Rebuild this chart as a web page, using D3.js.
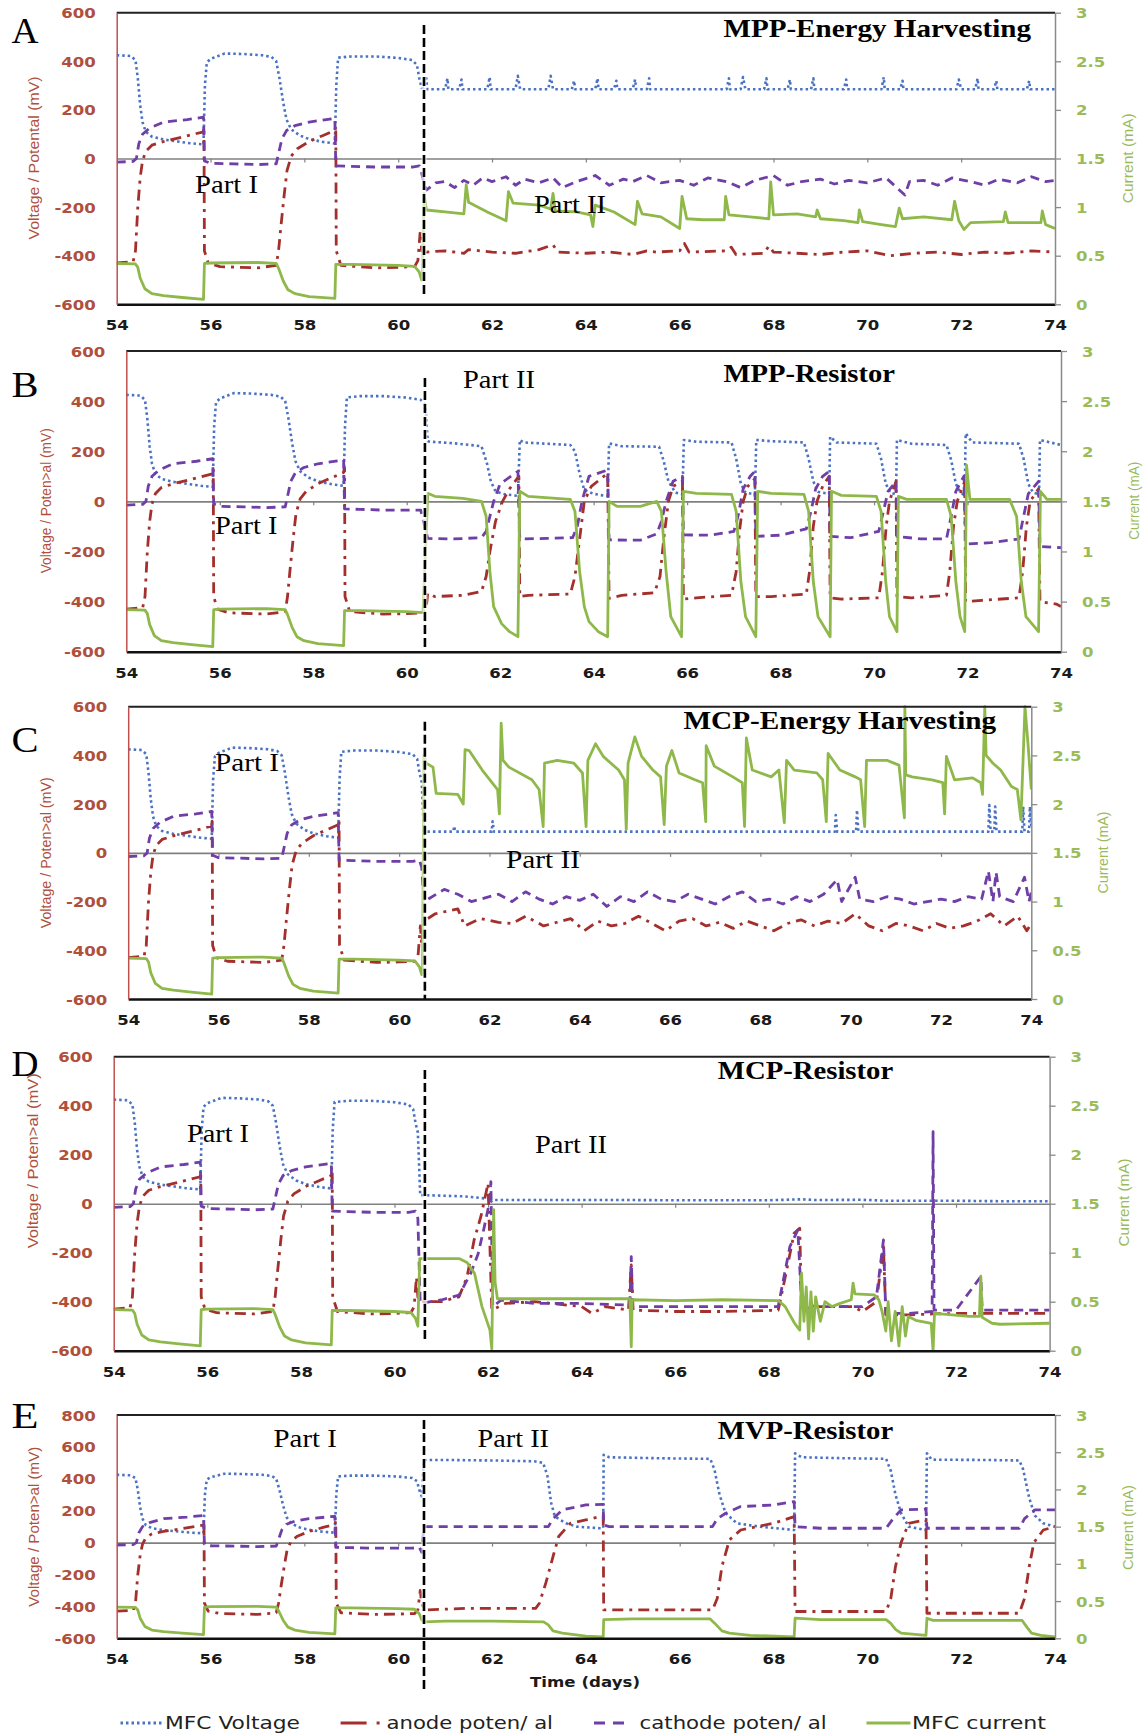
<!DOCTYPE html>
<html><head><meta charset="utf-8">
<script src="https://cdn.jsdelivr.net/npm/d3@7"></script>
<style>body{margin:0;background:#fff}svg{display:block}</style>
</head><body>
<svg id="chart" width="1148" height="1735"></svg>
<script>
// ---------- tick labels / categories ----------
const xTicks = [54,56,58,60,62,64,66,68,70,72,74];
const yTicksMain = [-600,-400,-200,0,200,400,600];
const yTicksE = [-600,-400,-200,0,200,400,600,800];
const currentTicks = [0,0.5,1,1.5,2,2.5,3];
const panelLetters = ["A","B","C","D","E"];
const panelTitles = ["MPP-Energy Harvesting","MPP-Resistor","MCP-Energy Harvesting","MCP-Resistor","MVP-Resistor"];
const yTitles = ["Voltage / Potental (mV)","Voltage / Poten>al (mV)","Voltage / Poten>al (mV)","Voltage / Poten>al (mV)","Voltage / Poten>al (mV)"];
const seriesNames = ["MFC Voltage","anode poten/ al","cathode poten/ al","MFC current"];

// ---------- Part I (days 54 - 60.5), common to all reactors ----------
const partI_voltage = [[54.0,425],[54.3,422],[54.4,405],[54.45,330],[54.5,220],[54.55,150],[54.62,110],[54.75,90],[55.0,78],[55.3,70],[55.6,62],[55.85,58],[55.88,300],[55.92,395],[56.0,410],[56.3,432],[56.7,430],[57.1,425],[57.3,418],[57.4,400],[57.47,330],[57.55,230],[57.62,160],[57.72,120],[57.9,95],[58.1,80],[58.4,68],[58.65,62],[58.68,300],[58.72,415],[59.0,420],[59.5,420],[60.0,414],[60.3,405],[60.4,385],[60.45,330],[60.5,290]];
const partI_anode = [[54.0,-430],[54.35,-425],[54.4,-380],[54.45,-200],[54.5,-80],[54.55,-10],[54.62,30],[54.75,55],[55.0,70],[55.4,88],[55.85,110],[55.86,130],[55.87,-380],[55.95,-430],[56.2,-445],[57.0,-450],[57.4,-440],[57.45,-380],[57.5,-280],[57.57,-150],[57.63,-50],[57.72,10],[57.85,40],[58.1,70],[58.4,95],[58.65,115],[58.67,135],[58.68,-380],[58.78,-440],[59.5,-450],[60.0,-448],[60.35,-445],[60.42,-420],[60.47,-300],[60.5,-380]];
const partI_cathode = [[54.0,-15],[54.35,-12],[54.42,0],[54.47,60],[54.55,100],[54.7,125],[55.0,150],[55.5,160],[55.85,170],[55.87,-10],[56.0,-20],[56.5,-22],[57.0,-25],[57.4,-22],[57.45,20],[57.52,80],[57.62,115],[57.8,135],[58.1,150],[58.65,165],[58.67,-30],[59.0,-32],[59.5,-35],[60.3,-35],[60.45,-30],[60.5,-60]];
const partI_current = [[54.0,0.42],[54.4,0.415],[54.45,0.38],[54.5,0.27],[54.6,0.16],[54.75,0.11],[55.0,0.09],[55.4,0.07],[55.85,0.05],[55.87,0.42],[56.0,0.425],[57.0,0.43],[57.4,0.42],[57.45,0.37],[57.55,0.24],[57.65,0.15],[57.8,0.11],[58.1,0.08],[58.65,0.06],[58.67,0.41],[59.0,0.41],[60.0,0.40],[60.35,0.39],[60.45,0.33],[60.5,0.25]];

// ---------- Part II, panel A: MPP-Energy Harvesting ----------
const A_voltage = [[60.55,290],[60.6,330],[60.62,285],[61.0,285],[61.05,330],[61.07,285],[61.3,285],[61.35,325],[61.37,285],[61.9,285],[61.95,335],[61.97,285],[62.5,285],[62.55,340],[62.6,285],[63.2,285],[63.25,340],[63.3,285],[63.7,285],[63.75,320],[63.77,285],[64.2,285],[64.25,330],[64.27,285],[64.6,285],[64.65,320],[64.67,285],[65.0,285],[65.05,325],[65.07,285],[65.3,285],[65.35,330],[65.37,285],[67.0,285],[67.05,330],[67.07,285],[67.3,285],[67.35,335],[67.4,285],[67.8,285],[67.85,330],[67.87,285],[68.3,285],[68.35,325],[68.37,285],[68.8,285],[68.85,330],[68.87,285],[69.5,285],[69.55,325],[69.57,285],[70.3,285],[70.35,335],[70.37,285],[70.7,285],[70.75,320],[70.77,285],[71.9,285],[71.95,325],[72.0,285],[72.3,285],[72.35,330],[72.37,285],[72.7,285],[72.75,320],[72.77,285],[73.4,285],[73.45,320],[73.47,285],[74.0,285]];
const A_anode = [[60.55,-360],[60.6,-385],[61.0,-380],[61.4,-390],[61.5,-375],[62.0,-385],[62.5,-390],[63.0,-375],[63.3,-355],[63.4,-385],[64.0,-390],[64.5,-385],[65.0,-395],[65.3,-380],[65.5,-385],[66.0,-380],[66.1,-350],[66.2,-385],[67.0,-380],[67.1,-365],[67.2,-395],[67.8,-390],[67.9,-360],[68.0,-385],[68.5,-390],[69.0,-395],[69.5,-385],[70.0,-380],[70.5,-400],[71.0,-390],[71.5,-385],[72.0,-395],[72.5,-385],[73.0,-390],[73.5,-380],[74.0,-385]];
const A_cathode = [[60.55,-100],[60.6,-130],[60.8,-100],[61.0,-95],[61.2,-120],[61.4,-90],[61.6,-110],[61.8,-80],[62.0,-95],[62.3,-75],[62.5,-110],[62.7,-85],[63.0,-100],[63.3,-80],[63.5,-120],[63.8,-95],[64.2,-70],[64.5,-110],[64.8,-85],[65.0,-95],[65.3,-70],[65.6,-100],[66.0,-90],[66.3,-110],[66.6,-80],[67.0,-95],[67.3,-120],[67.6,-90],[68.0,-70],[68.3,-110],[68.6,-95],[69.0,-85],[69.3,-105],[69.6,-90],[70.0,-100],[70.4,-80],[70.8,-150],[70.9,-95],[71.2,-90],[71.5,-110],[71.8,-80],[72.2,-95],[72.5,-110],[72.8,-85],[73.2,-100],[73.5,-75],[73.8,-95],[74.0,-90]];
const A_current = [[60.52,0.3],[60.55,1.14],[60.6,0.97],[61.0,0.95],[61.4,0.93],[61.45,1.23],[61.5,1.05],[61.9,0.95],[62.3,0.86],[62.35,1.16],[62.45,1.04],[63.0,1.02],[63.25,0.98],[63.3,1.14],[63.35,0.96],[63.8,0.95],[64.1,0.92],[64.15,0.80],[64.2,1.02],[64.6,0.95],[65.05,0.82],[65.1,1.06],[65.2,0.93],[65.6,0.9],[66.0,0.78],[66.05,1.11],[66.15,0.88],[66.5,0.87],[66.95,0.87],[66.98,1.11],[67.05,0.92],[67.5,0.9],[67.9,0.88],[67.94,1.26],[68.0,0.92],[68.5,0.93],[68.9,0.9],[68.93,0.97],[69.0,0.88],[69.5,0.86],[69.8,0.84],[69.83,0.97],[69.9,0.85],[70.3,0.82],[70.6,0.8],[70.68,0.99],[70.75,0.88],[71.2,0.9],[71.8,0.87],[71.86,1.06],[71.95,0.86],[72.06,0.77],[72.2,0.84],[72.9,0.85],[72.94,0.95],[73.0,0.84],[73.7,0.84],[73.73,0.96],[73.8,0.82],[74.0,0.78]];

// ---------- Part II, panel B: MPP-Resistor ----------
const B_voltage = [[60.45,240],[60.5,238],[61.0,232],[61.6,220],[61.72,150],[61.8,80],[61.9,40],[62.1,28],[62.38,22],[62.42,245],[62.5,235],[63.5,225],[63.6,200],[63.7,110],[63.8,45],[64.0,30],[64.3,20],[64.33,231],[64.6,220],[65.4,218],[65.5,160],[65.6,80],[65.75,35],[65.9,28],[65.93,245],[66.2,238],[66.95,235],[67.05,170],[67.15,70],[67.25,35],[67.45,28],[67.48,245],[67.8,240],[68.5,235],[68.6,170],[68.7,80],[68.8,38],[69.04,30],[69.06,258],[69.2,235],[70.05,230],[70.15,170],[70.25,70],[70.35,35],[70.47,28],[70.49,245],[70.8,230],[71.55,225],[71.65,165],[71.75,70],[71.85,35],[71.94,25],[71.96,271],[72.1,235],[73.1,230],[73.2,170],[73.3,70],[73.4,35],[73.53,28],[73.55,245],[74.0,225]];
const B_anode = [[60.45,-367],[60.6,-380],[61.2,-375],[61.6,-360],[61.7,-300],[61.78,-200],[61.9,-80],[62.05,0],[62.2,50],[62.4,100],[62.42,-380],[62.6,-375],[63.5,-370],[63.6,-300],[63.7,-150],[63.8,0],[63.95,60],[64.3,112],[64.33,-387],[64.6,-375],[65.3,-365],[65.42,-300],[65.5,-150],[65.6,0],[65.7,60],[65.9,80],[65.92,-390],[66.2,-385],[66.95,-375],[67.05,-280],[67.12,-120],[67.2,0],[67.3,60],[67.45,90],[67.47,-380],[67.8,-380],[68.55,-370],[68.62,-280],[68.7,-100],[68.78,0],[68.9,60],[69.04,100],[69.06,-385],[69.3,-390],[70.1,-385],[70.18,-280],[70.26,-100],[70.33,0],[70.47,80],[70.49,-380],[70.8,-385],[71.55,-375],[71.62,-280],[71.7,-100],[71.78,0],[71.94,80],[71.96,-400],[72.3,-395],[73.1,-385],[73.18,-280],[73.26,-100],[73.34,0],[73.52,50],[73.55,-400],[73.9,-410],[74.0,-420]];
const B_cathode = [[60.45,-148],[61.0,-150],[61.6,-145],[61.7,-120],[61.78,-60],[61.86,0],[62.0,70],[62.38,120],[62.42,-150],[63.0,-148],[63.55,-145],[63.65,-100],[63.75,0],[63.9,100],[64.3,125],[64.33,-154],[65.0,-155],[65.35,-130],[65.45,-80],[65.55,0],[65.7,80],[65.9,100],[65.92,-134],[66.5,-135],[67.0,-120],[67.1,-50],[67.2,50],[67.35,100],[67.45,120],[67.47,-140],[68.0,-135],[68.55,-110],[68.65,-40],[68.75,50],[68.9,100],[69.04,120],[69.06,-140],[69.5,-145],[70.1,-120],[70.2,-40],[70.3,40],[70.47,80],[70.49,-140],[71.0,-150],[71.55,-150],[71.65,-60],[71.75,40],[71.92,100],[71.96,-170],[72.5,-165],[73.1,-150],[73.2,-60],[73.3,30],[73.52,80],[73.55,-180],[74.0,-185]];
const B_current = [[60.45,1.58],[60.6,1.55],[61.2,1.53],[61.6,1.5],[61.7,1.35],[61.78,0.8],[61.86,0.45],[62.03,0.28],[62.2,0.2],[62.38,0.15],[62.42,1.6],[62.6,1.55],[63.5,1.52],[63.6,1.4],[63.7,0.8],[63.8,0.45],[63.9,0.3],[64.1,0.2],[64.3,0.15],[64.33,1.5],[64.5,1.45],[65.0,1.45],[65.35,1.5],[65.45,1.4],[65.55,0.8],[65.65,0.35],[65.88,0.15],[65.92,1.6],[66.2,1.58],[66.95,1.57],[67.05,1.4],[67.15,0.7],[67.25,0.35],[67.47,0.15],[67.51,1.6],[67.8,1.58],[68.5,1.57],[68.6,1.4],[68.7,0.7],[68.8,0.35],[69.06,0.15],[69.09,1.6],[69.3,1.56],[70.05,1.55],[70.15,1.4],[70.25,0.7],[70.33,0.35],[70.49,0.2],[70.52,1.55],[70.7,1.52],[71.55,1.52],[71.65,1.35],[71.75,0.7],[71.84,0.35],[71.94,0.2],[71.98,1.86],[72.05,1.52],[72.9,1.52],[73.05,1.35],[73.15,0.7],[73.25,0.35],[73.52,0.2],[73.56,1.6],[73.7,1.52],[74.0,1.52]];

// ---------- Part II, panel C: MCP-Energy Harvesting ----------
const C_voltage = [[60.55,87],[61.2,87],[61.22,110],[61.24,87],[62.05,87],[62.07,130],[62.1,87],[69.65,87],[69.67,155],[69.7,87],[70.12,87],[70.14,176],[70.17,87],[73.05,87],[73.07,196],[73.1,87],[73.18,87],[73.2,190],[73.23,87],[73.8,87],[73.82,190],[73.85,87],[73.95,87],[73.97,190],[74.0,110]];
const C_anode = [[60.55,-280],[60.8,-250],[61.3,-230],[61.45,-300],[61.8,-270],[62.2,-285],[62.5,-290],[62.8,-260],[63.2,-300],[63.5,-285],[63.8,-270],[64.1,-320],[64.4,-280],[64.7,-300],[65.0,-290],[65.3,-260],[65.6,-290],[65.9,-320],[66.2,-280],[66.5,-270],[66.8,-300],[67.1,-285],[67.4,-310],[67.7,-280],[68.0,-300],[68.3,-320],[68.6,-290],[68.9,-275],[69.2,-300],[69.5,-280],[69.8,-290],[70.1,-250],[70.4,-300],[70.7,-320],[71.0,-290],[71.3,-300],[71.6,-320],[71.9,-290],[72.2,-310],[72.5,-300],[72.8,-280],[73.1,-250],[73.4,-300],[73.7,-260],[73.9,-320],[74.0,-290]];
const C_cathode = [[60.55,-200],[61.0,-150],[61.3,-170],[61.6,-200],[62.0,-180],[62.2,-170],[62.5,-200],[62.8,-160],[63.1,-190],[63.4,-210],[63.7,-180],[64.0,-195],[64.3,-170],[64.6,-220],[64.9,-180],[65.2,-200],[65.5,-160],[65.8,-190],[66.1,-200],[66.4,-170],[66.7,-190],[67.0,-210],[67.3,-180],[67.6,-160],[67.9,-200],[68.2,-190],[68.5,-210],[68.8,-180],[69.1,-200],[69.4,-170],[69.7,-110],[69.8,-200],[70.1,-100],[70.2,-190],[70.5,-200],[70.8,-180],[71.1,-190],[71.4,-210],[71.7,-200],[72.0,-190],[72.3,-200],[72.6,-180],[72.9,-190],[73.05,-75],[73.15,-200],[73.22,-80],[73.3,-180],[73.6,-200],[73.85,-100],[73.95,-200],[74.0,-160]];
const C_current = [[60.52,0.3],[60.55,2.5],[60.6,2.42],[60.75,2.38],[60.82,2.11],[61.3,2.1],[61.42,2.0],[61.46,2.56],[61.55,2.55],[61.84,2.35],[62.18,2.15],[62.22,1.9],[62.26,2.83],[62.3,2.45],[62.43,2.38],[62.94,2.25],[63.1,2.15],[63.19,1.77],[63.22,2.42],[63.5,2.45],[63.87,2.42],[64.06,2.32],[64.14,1.77],[64.18,2.45],[64.35,2.62],[64.52,2.49],[64.69,2.42],[64.86,2.35],[64.99,2.25],[65.03,1.74],[65.07,2.42],[65.22,2.69],[65.37,2.49],[65.62,2.35],[65.79,2.28],[65.87,1.79],[65.92,2.39],[66.04,2.55],[66.2,2.32],[66.55,2.25],[66.72,2.22],[66.79,1.82],[66.8,2.6],[66.98,2.39],[67.39,2.28],[67.6,2.22],[67.65,1.77],[67.69,2.68],[67.82,2.35],[68.24,2.28],[68.41,2.35],[68.53,1.81],[68.58,2.45],[68.75,2.35],[69.25,2.32],[69.38,2.25],[69.46,1.82],[69.5,2.52],[69.76,2.35],[70.1,2.28],[70.22,2.25],[70.31,1.77],[70.35,2.45],[70.8,2.45],[71.07,2.4],[71.19,1.86],[71.2,3.0],[71.22,2.3],[71.36,2.28],[71.8,2.25],[72.04,2.22],[72.08,1.9],[72.12,2.49],[72.3,2.25],[72.7,2.27],[72.88,2.22],[72.92,2.1],[72.97,3.0],[73.0,2.5],[73.15,2.42],[73.32,2.35],[73.56,2.18],[73.69,2.15],[73.77,1.84],[73.86,3.0],[73.93,2.6],[74.0,2.15]];

// ---------- Part II, panel D: MCP-Resistor ----------
const D_voltage = [[60.55,35],[61.0,33],[61.5,30],[62.0,20],[62.05,5],[62.1,15],[63.0,15],[65.0,15],[66.0,14],[68.0,14],[68.7,18],[69.0,15],[70.0,16],[70.5,12],[71.0,12],[72.0,12],[73.0,10],[74.0,10]];
const D_anode = [[60.55,-400],[61.0,-400],[61.38,-380],[61.55,-300],[61.7,-150],[61.85,-50],[62.0,83],[62.08,-434],[62.37,-407],[63.0,-400],[64.0,-420],[64.22,-448],[64.5,-420],[65.0,-434],[65.06,-250],[65.1,-434],[66.0,-440],[67.0,-440],[68.2,-435],[68.35,-300],[68.54,-121],[68.66,-100],[68.7,-434],[69.0,-420],[69.8,-420],[70.0,-440],[70.3,-400],[70.45,-175],[70.5,-454],[71.0,-454],[71.5,-450],[72.0,-448],[73.0,-448],[74.0,-448]];
const D_cathode = [[60.55,-407],[61.0,-393],[61.38,-373],[61.63,-284],[61.79,-203],[61.92,-94],[62.04,15],[62.06,90],[62.1,-420],[62.28,-393],[63.0,-407],[64.0,-407],[65.03,-414],[65.06,-216],[65.09,-420],[66.0,-420],[67.0,-420],[68.2,-420],[68.45,-175],[68.62,-107],[68.7,-407],[69.0,-420],[70.0,-420],[70.3,-380],[70.45,-148],[70.5,-448],[71.0,-448],[71.49,-440],[71.51,294],[71.53,-434],[72.0,-434],[72.53,-298],[72.56,-434],[73.0,-434],[74.0,-434]];
const D_current = [[60.54,0.94],[61.0,0.94],[61.38,0.94],[61.55,0.9],[61.71,0.79],[61.87,0.45],[62.04,0.21],[62.08,0.02],[62.12,1.44],[62.15,0.7],[62.2,0.53],[63.0,0.53],[64.0,0.53],[65.03,0.53],[65.06,0.04],[65.08,0.52],[66.0,0.51],[67.0,0.52],[68.21,0.51],[68.35,0.45],[68.55,0.28],[68.66,0.21],[68.7,0.79],[68.75,0.3],[68.8,0.65],[68.85,0.12],[68.9,0.6],[68.95,0.2],[69.0,0.55],[69.1,0.3],[69.2,0.5],[69.35,0.45],[69.51,0.48],[69.76,0.52],[69.8,0.69],[69.84,0.58],[70.25,0.57],[70.35,0.52],[70.42,0.4],[70.5,0.2],[70.55,0.5],[70.62,0.1],[70.7,0.4],[70.78,0.05],[70.85,0.45],[70.92,0.15],[70.98,0.35],[71.14,0.31],[71.47,0.28],[71.51,0.0],[71.54,0.38],[72.28,0.35],[72.5,0.35],[72.53,0.76],[72.56,0.34],[72.77,0.28],[72.94,0.27],[74.0,0.28]];

// ---------- Part II, panel E: MVP-Resistor ----------
const E_voltage = [[60.55,518],[61.0,518],[62.0,515],[62.9,510],[63.09,500],[63.18,420],[63.26,250],[63.34,163],[63.58,121],[63.8,100],[64.3,90],[64.37,90],[64.38,550],[64.5,535],[65.5,529],[66.65,525],[66.74,460],[66.85,300],[66.98,184],[67.22,121],[67.7,100],[68.44,79],[68.46,560],[68.6,535],[69.5,529],[70.4,525],[70.5,450],[70.6,300],[70.72,184],[70.88,100],[71.25,79],[71.27,560],[71.37,520],[72.5,518],[73.24,515],[73.32,460],[73.45,280],[73.57,170],[73.75,121],[74.0,100]];
const E_anode = [[60.55,-412],[60.6,-422],[61.5,-412],[62.93,-412],[63.01,-380],[63.15,-250],[63.3,-88],[63.42,38],[63.67,121],[64.0,142],[64.3,163],[64.37,170],[64.38,-422],[65.0,-422],[66.7,-422],[66.8,-350],[66.9,-150],[67.06,17],[67.3,79],[68.0,121],[68.44,163],[68.46,-432],[69.0,-432],[70.4,-432],[70.5,-350],[70.6,-150],[70.72,0],[70.88,121],[71.25,142],[71.27,-443],[72.0,-443],[73.24,-443],[73.35,-350],[73.45,-150],[73.55,0],[73.75,79],[74.0,100]];
const E_cathode = [[60.55,100],[61.0,100],[62.0,100],[63.2,100],[63.3,150],[63.5,205],[64.0,236],[64.37,240],[64.38,111],[64.5,100],[66.7,100],[66.8,150],[66.98,184],[67.3,226],[68.0,236],[68.44,257],[68.46,100],[69.0,90],[70.4,90],[70.55,150],[70.72,205],[71.25,210],[71.27,90],[72.0,90],[73.24,90],[73.35,150],[73.57,205],[74.0,205]];
const E_current = [[60.55,0.22],[61.0,0.23],[62.0,0.23],[63.1,0.22],[63.2,0.18],[63.3,0.1],[63.5,0.07],[64.0,0.03],[64.37,0.02],[64.38,0.25],[65.0,0.26],[66.65,0.26],[66.75,0.2],[66.9,0.1],[67.06,0.07],[67.5,0.04],[68.44,0.02],[68.46,0.27],[69.0,0.25],[70.4,0.25],[70.5,0.2],[70.6,0.12],[70.72,0.07],[71.25,0.04],[71.27,0.27],[71.4,0.24],[72.5,0.24],[73.3,0.24],[73.4,0.15],[73.5,0.07],[73.7,0.04],[74.0,0.02]];

// Part II arrays gathered per panel
const partII = [
  [A_voltage, A_anode, A_cathode, A_current],
  [B_voltage, B_anode, B_cathode, B_current],
  [C_voltage, C_anode, C_cathode, C_current],
  [D_voltage, D_anode, D_cathode, D_current],
  [E_voltage, E_anode, E_cathode, E_current]
];
const partIAll = [partI_voltage, partI_anode, partI_cathode, partI_current];
const dividerDays = [60.55, 60.39, 60.57, 60.65, 60.55];

// ---------- layout (positions only) ----------
const layout = [
 {l:116.7,r:1055,t:12.7,b:304.3, yTicks:yTicksMain, letter:[11.5,43], title:[723.5,37.3,307.5], p1:[195,193.3,63], p2:[534,213.3,72], div:[25,297], yT:[34.4,158,163], cT:[1127.8,158.3,90]},
 {l:126.3,r:1061,t:351,b:651.7, yTicks:yTicksMain, letter:[11.5,397], title:[723.5,381.7,171.5], p1:[215,534,62.5], p2:[463,388.3,72], div:[378,651.7], yT:[46,500.8,145], cT:[1133.5,500.8,78]},
 {l:128.2,r:1031.3,t:706.7,b:999, yTicks:yTicksMain, letter:[11.5,752], title:[683.5,729.3,312.7], p1:[215,771,64], p2:[506,868.3,74], div:[721.7,999], yT:[46,852.8,151], cT:[1103,852.5,82]},
 {l:113.7,r:1049.6,t:1056.7,b:1350.7, yTicks:yTicksMain, letter:[11.5,1076], title:[717.8,1079.3,175.4], p1:[187,1141.7,62], p2:[535,1153.3,72], div:[1070,1343], yT:[32.5,1160.8,175], cT:[1124,1202.5,88]},
 {l:116.7,r:1055,t:1415,b:1638.3, yTicks:yTicksE, letter:[11.5,1428], title:[717.8,1439.3,175.4], p1:[273.6,1446.7,63.2], p2:[477.6,1446.7,71.4], div:[1420,1690], yT:[34.4,1526.7,160], cT:[1127.8,1527.5,85]}
];

const colors = ["#4a72c2","#a3302c","#6f3ea6","#8fb84a"];
const dashes = ["2.5,3","11,6,3,6","9,6",null];
const widths = [2.6,2.8,2.8,2.8];
const LEFT_COLOR = "#b0503c", RIGHT_COLOR = "#9bbb59";
const TICK_SX = 1.18;

const svg = d3.select("#chart");
const defs = svg.append("defs");

function scaledText(g, x, y, str, o) {
  const t = g.append("text")
    .attr("transform", `translate(${x},${y})` + (o.rot ? ` rotate(${o.rot})` : ""))
    .attr("font-family", o.family).attr("font-size", o.size)
    .attr("font-weight", o.weight || "normal").attr("fill", o.fill || "#000")
    .attr("text-anchor", o.anchor || "start").text(str);
  if (o.len) t.attr("textLength", o.len).attr("lengthAdjust", "spacingAndGlyphs");
  return t;
}

layout.forEach((L, i) => {
  const g = svg.append("g");
  const x = d3.scaleLinear().domain([54,74]).range([L.l, L.r]);
  const yDom = d3.extent(L.yTicks);
  const y = d3.scaleLinear().domain(yDom).range([L.b, L.t]);
  const yR = d3.scaleLinear().domain([0,3]).range([L.b, L.t]);

  defs.append("clipPath").attr("id", "clip" + i).append("rect")
    .attr("x", L.l).attr("y", L.t - 2).attr("width", L.r - L.l).attr("height", L.b - L.t + 4);

  // zero line with small ticks
  const zero = g.append("g").attr("transform", `translate(0,${y(0)})`)
    .call(d3.axisBottom(x).tickValues(xTicks.slice(1, -1)).tickSize(4).tickSizeOuter(0).tickFormat(""));
  zero.select(".domain").attr("stroke", "#808080").attr("stroke-width", 1.6);
  zero.selectAll(".tick line").attr("stroke", "#808080").attr("stroke-width", 1.2);

  // series
  const lines = g.append("g").attr("clip-path", `url(#clip${i})`);
  for (let s = 0; s < 4; s++) {
    const p2 = partII[i][s];
    const start = p2[0][0];
    const data = partIAll[s].filter(d => d[0] < start).concat(p2);
    const ys = s === 3 ? yR : y;
    const line = d3.line().x(d => x(d[0])).y(d => ys(d[1]));
    const path = lines.append("path").datum(data).attr("d", line)
      .attr("fill", "none").attr("stroke", colors[s]).attr("stroke-width", widths[s])
      .attr("stroke-linejoin", "round");
    if (dashes[s]) path.attr("stroke-dasharray", dashes[s]);
  }

  // divider between Part I and Part II
  g.append("line").attr("x1", x(dividerDays[i])).attr("x2", x(dividerDays[i]))
    .attr("y1", L.div[0]).attr("y2", L.div[1])
    .attr("stroke", "#fff").attr("stroke-width", 5).attr("opacity", 0.7);
  g.append("line").attr("x1", x(dividerDays[i])).attr("x2", x(dividerDays[i]))
    .attr("y1", L.div[0]).attr("y2", L.div[1])
    .attr("stroke", "#000").attr("stroke-width", 2.6).attr("stroke-dasharray", "9,4");

  // top border
  g.append("line").attr("x1", L.l).attr("x2", L.r).attr("y1", L.t).attr("y2", L.t)
    .attr("stroke", "#222").attr("stroke-width", 2);

  // bottom axis
  const bx = g.append("g").attr("transform", `translate(0,${L.b})`)
    .call(d3.axisBottom(x).tickValues(xTicks).tickSize(0).tickSizeOuter(0).tickPadding(0).tickFormat(d => String(d)));
  bx.select(".domain").attr("stroke", "#111").attr("stroke-width", 2.4);
  bx.selectAll(".tick text").attr("y", 0).attr("dy", null)
    .attr("transform", `translate(0,26) scale(${TICK_SX},1)`)
    .attr("font-family", "DejaVu Sans").attr("font-weight", "bold").attr("font-size", 14).attr("fill", "#1a1a1a");

  // left axis
  const ly = g.append("g").attr("transform", `translate(${L.l},0)`)
    .call(d3.axisLeft(y).tickValues(L.yTicks).tickSize(0).tickSizeOuter(0).tickPadding(0).tickFormat(d => String(d)));
  ly.select(".domain").attr("stroke", "#c0504d").attr("stroke-width", 1.5);
  ly.selectAll(".tick text").attr("x", 0).attr("dy", "0.36em")
    .attr("transform", `translate(-21,0) scale(${TICK_SX},1)`)
    .attr("font-family", "DejaVu Sans").attr("font-weight", "bold").attr("font-size", 14).attr("fill", LEFT_COLOR);

  // right axis
  const ry = g.append("g").attr("transform", `translate(${L.r},0)`)
    .call(d3.axisRight(yR).tickValues(currentTicks).tickSize(6).tickSizeOuter(0).tickPadding(0).tickFormat(d => String(d)));
  ry.select(".domain").attr("stroke", "#8a8a8a").attr("stroke-width", 1.5);
  ry.selectAll(".tick line").attr("stroke", "#8a8a8a").attr("stroke-width", 1.3);
  ry.selectAll(".tick text").attr("x", 0).attr("dy", "0.36em")
    .attr("transform", `translate(21,0) scale(${TICK_SX},1)`)
    .attr("font-family", "DejaVu Sans").attr("font-weight", "bold").attr("font-size", 14).attr("fill", RIGHT_COLOR);

  // axis titles
  scaledText(g, L.yT[0] + 5, L.yT[1], yTitles[i], {rot:-90, family:"Liberation Sans", size:14.5, fill:LEFT_COLOR, anchor:"middle", len:L.yT[2]});
  scaledText(g, L.cT[0] + 5, L.cT[1], "Current (mA)", {rot:-90, family:"Liberation Sans", size:14.5, fill:RIGHT_COLOR, anchor:"middle", len:L.cT[2]});

  // letter, title, part labels
  scaledText(g, L.letter[0], L.letter[1], panelLetters[i], {family:"Liberation Serif", size:35, fill:"#000", len:27});
  scaledText(g, L.title[0], L.title[1], panelTitles[i], {family:"Liberation Serif", size:26, weight:"bold", fill:"#000", len:L.title[2]});
  scaledText(g, L.p1[0], L.p1[1], "Part I", {family:"Liberation Serif", size:25, fill:"#000", len:L.p1[2]});
  scaledText(g, L.p2[0], L.p2[1], "Part II", {family:"Liberation Serif", size:25, fill:"#000", len:L.p2[2]});
});

// x-axis title
scaledText(svg, 530, 1687, "Time (days)", {family:"DejaVu Sans", size:14, weight:"bold", fill:"#1a1a1a", len:110});

// legend
const legendSamples = [[120.5,164.6],[340.6,380],[594,632],[866.5,910.4]];
const legendText = [[165,135],[386.5,166.5],[639.6,187],[912,134]];
const lg = svg.append("g");
seriesNames.forEach((name, s) => {
  const ln = lg.append("line").attr("x1", legendSamples[s][0]).attr("x2", legendSamples[s][1])
    .attr("y1", 1723).attr("y2", 1723).attr("stroke", colors[s]).attr("stroke-width", 2.8);
  if (dashes[s]) ln.attr("stroke-dasharray", s === 2 ? "11,8" : s === 1 ? "26,10,3,5" : dashes[s]);
  scaledText(lg, legendText[s][0], 1729, name, {family:"DejaVu Sans", size:17, fill:"#222", len:legendText[s][1]});
});
</script>
</body></html>
